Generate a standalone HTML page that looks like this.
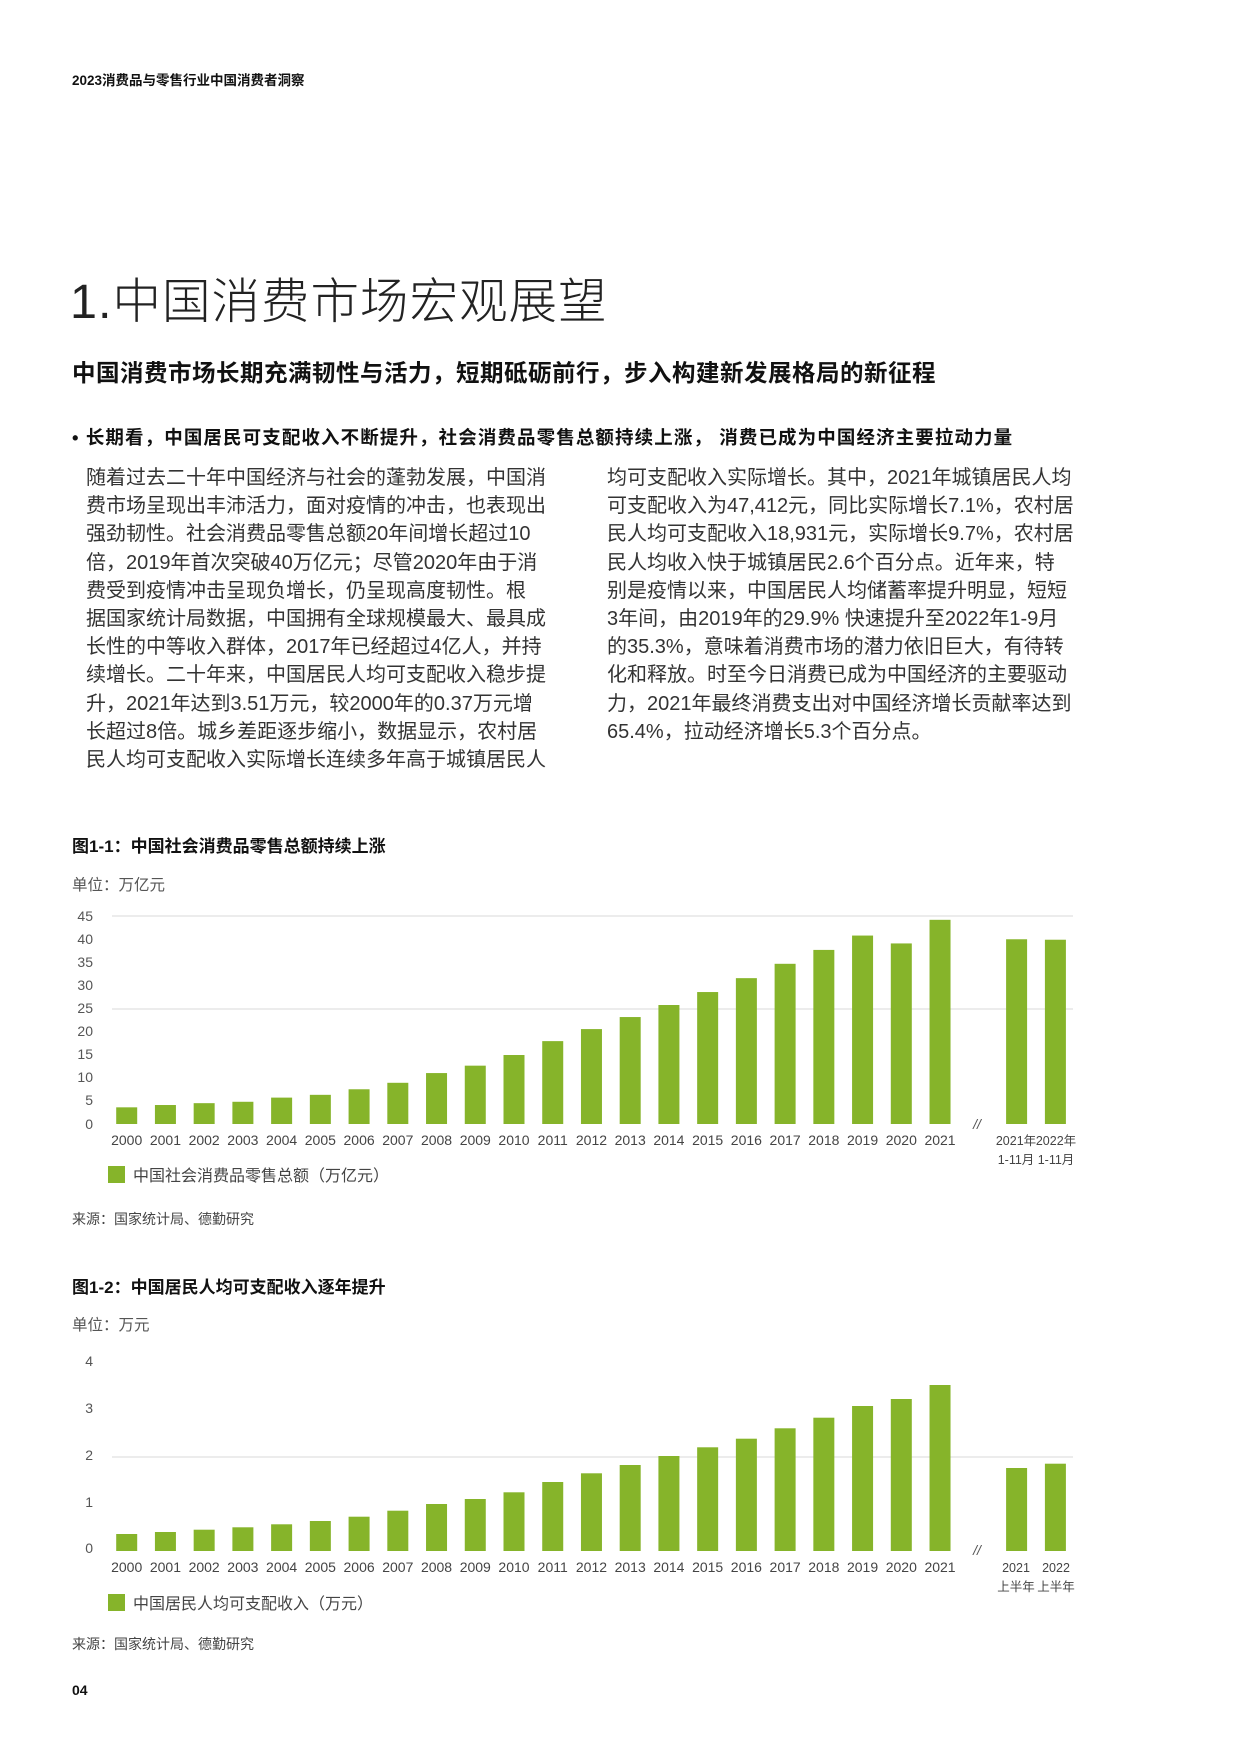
<!DOCTYPE html>
<html><head><meta charset="utf-8">
<style>
body{margin:0;width:1241px;height:1754px;background:#fff;position:relative;font-family:"Liberation Sans","Noto Sans CJK SC",sans-serif;color:#222;overflow:hidden}
.a{position:absolute;white-space:nowrap}
.body{position:absolute;font-size:20px;line-height:28.2px;color:#333;}
.body div{white-space:nowrap}
svg{position:absolute;left:0;top:0}
</style></head><body>
<div class="a" style="left:72px;top:69px;font-size:13.5px;font-weight:bold;color:#111">2023消费品与零售行业中国消费者洞察</div>
<div class="a" style="left:70px;top:262px;font-size:48.5px;font-weight:300;color:#222;letter-spacing:1px">1.中国消费市场宏观展望</div>
<div class="a" style="left:72px;top:354px;font-size:23.5px;font-weight:bold;color:#111;letter-spacing:0.5px">中国消费市场长期充满韧性与活力，短期砥砺前行，步入构建新发展格局的新征程</div>
<div class="a" style="left:72px;top:424px;font-size:18.5px;font-weight:bold;color:#111;letter-spacing:1.1px">• 长期看，中国居民可支配收入不断提升，社会消费品零售总额持续上涨， 消费已成为中国经济主要拉动力量</div>
<div class="body" style="left:86px;top:464px">
<div>随着过去二十年中国经济与社会的蓬勃发展，中国消</div>
<div>费市场呈现出丰沛活力，面对疫情的冲击，也表现出</div>
<div>强劲韧性。社会消费品零售总额20年间增长超过10</div>
<div>倍，2019年首次突破40万亿元；尽管2020年由于消</div>
<div>费受到疫情冲击呈现负增长，仍呈现高度韧性。根</div>
<div>据国家统计局数据，中国拥有全球规模最大、最具成</div>
<div>长性的中等收入群体，2017年已经超过4亿人，并持</div>
<div>续增长。二十年来，中国居民人均可支配收入稳步提</div>
<div>升，2021年达到3.51万元，较2000年的0.37万元增</div>
<div>长超过8倍。城乡差距逐步缩小，数据显示，农村居</div>
<div>民人均可支配收入实际增长连续多年高于城镇居民人</div>
</div>
<div class="body" style="left:607px;top:464px">
<div>均可支配收入实际增长。其中，2021年城镇居民人均</div>
<div>可支配收入为47,412元，同比实际增长7.1%，农村居</div>
<div>民人均可支配收入18,931元，实际增长9.7%，农村居</div>
<div>民人均收入快于城镇居民2.6个百分点。近年来，特</div>
<div>别是疫情以来，中国居民人均储蓄率提升明显，短短</div>
<div>3年间，由2019年的29.9% 快速提升至2022年1-9月</div>
<div>的35.3%，意味着消费市场的潜力依旧巨大，有待转</div>
<div>化和释放。时至今日消费已成为中国经济的主要驱动</div>
<div>力，2021年最终消费支出对中国经济增长贡献率达到</div>
<div>65.4%，拉动经济增长5.3个百分点。</div>
</div>

<div class="a" style="left:72px;top:832px;font-size:17px;font-weight:bold;color:#111">图1-1：中国社会消费品零售总额持续上涨</div>
<div class="a" style="left:72px;top:873px;font-size:15.5px;color:#555">单位：万亿元</div>
<div class="a" style="left:72px;top:1209px;font-size:14px;color:#444">来源：国家统计局、德勤研究</div>

<div class="a" style="left:72px;top:1273px;font-size:17px;font-weight:bold;color:#111">图1-2：中国居民人均可支配收入逐年提升</div>
<div class="a" style="left:72px;top:1313px;font-size:15.5px;color:#555">单位：万元</div>
<div class="a" style="left:72px;top:1634px;font-size:14px;color:#444">来源：国家统计局、德勤研究</div>
<div class="a" style="left:72px;top:1682px;font-size:14px;font-weight:bold;color:#111">04</div>

<svg width="1241" height="1754" xmlns="http://www.w3.org/2000/svg" font-family="Liberation Sans, Noto Sans CJK SC, sans-serif">
<g stroke="#e6e6e6" stroke-width="1.5">
<line x1="112" y1="916" x2="1073" y2="916"/><line x1="112" y1="1009" x2="1073" y2="1009"/>
<line x1="112" y1="1457" x2="1073" y2="1457"/>
</g>
<g font-size="14" fill="#555" text-anchor="end">
<text x="93" y="921">45</text><text x="93" y="944">40</text><text x="93" y="967">35</text><text x="93" y="990">30</text><text x="93" y="1013">25</text><text x="93" y="1036">20</text><text x="93" y="1059">15</text><text x="93" y="1082">10</text><text x="93" y="1105">5</text><text x="93" y="1129">0</text>
<text x="93" y="1366">4</text><text x="93" y="1413">3</text><text x="93" y="1460">2</text><text x="93" y="1507">1</text><text x="93" y="1553">0</text>
</g>
<g id="c1" fill="#86b42a"></g>
<g id="c2" fill="#86b42a"></g>
<g id="l1" font-size="14" fill="#444" text-anchor="middle"></g>
<text x="977" y="1129" font-size="14" fill="#555" text-anchor="middle" font-style="italic">//</text>
<text x="977" y="1555" font-size="14" fill="#555" text-anchor="middle" font-style="italic">//</text>
<g font-size="12.5" fill="#444" text-anchor="middle">
<text x="1016" y="1145">2021年</text><text x="1056" y="1145">2022年</text>
<text x="1016" y="1164">1-11月</text><text x="1056" y="1164">1-11月</text>
<text x="1016" y="1572">2021</text><text x="1056" y="1572">2022</text>
<text x="1016" y="1591">上半年</text><text x="1056" y="1591">上半年</text>
</g>
<rect x="108" y="1166" width="17" height="17" fill="#86b42a"/>
<text x="133" y="1181" font-size="16" fill="#444">中国社会消费品零售总额（万亿元）</text>
<rect x="108" y="1594" width="17" height="17" fill="#86b42a"/>
<text x="133" y="1609" font-size="16" fill="#444">中国居民人均可支配收入（万元）</text>
<script>
var ns="http://www.w3.org/2000/svg";
var v1=[3.6,4.1,4.5,4.8,5.7,6.3,7.5,8.9,11,12.6,14.9,17.9,20.5,23.1,25.7,28.5,31.5,34.6,37.6,40.7,39.0,44.1];
var t2=[1534,1532,1529.7,1527.3,1524.3,1521,1516.7,1510.7,1504,1499,1492.3,1482,1473.3,1465,1456,1447.3,1438.7,1428.3,1417.7,1406,1399,1385];
function r(g,x,y,h){var e=document.createElementNS(ns,"rect");e.setAttribute("x",x-10.5);e.setAttribute("y",y);e.setAttribute("width",21);e.setAttribute("height",h);document.getElementById(g).appendChild(e);}
function t(x,y,s){var e=document.createElementNS(ns,"text");e.setAttribute("x",x);e.setAttribute("y",y);e.textContent=s;document.getElementById("l1").appendChild(e);}
for(var i=0;i<22;i++){var cx=126.7+i*38.73;var h=v1[i]*4.63;r("c1",cx,1124-h,h);r("c2",cx,t2[i],1551-t2[i]);t(cx,1145,2000+i);t(cx,1572,2000+i);}
r("c1",1016.6,1124-39.9*4.63,39.9*4.63);r("c1",1055.4,1124-39.8*4.63,39.8*4.63);
r("c2",1016.6,1468,83);r("c2",1055.4,1463.7,87.3);
</script>
</svg>
</body></html>
